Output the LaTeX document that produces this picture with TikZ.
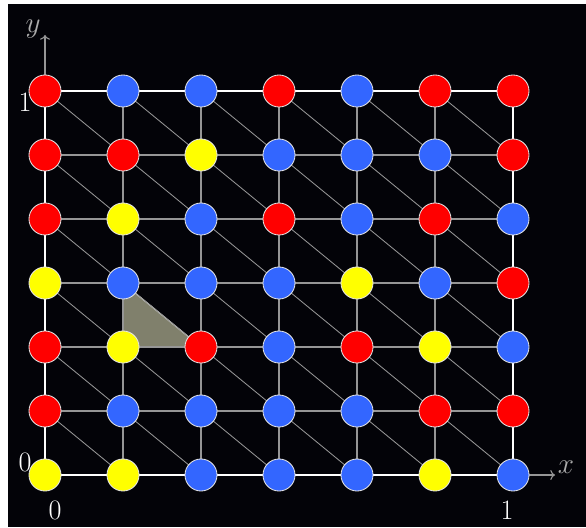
\documentclass[tikz,border=0pt]{standalone}
\usepackage{amsmath,amssymb}
\usepackage{xcolor}
\usepackage{tikz}
\usetikzlibrary{positioning,arrows.meta,calc}
\definecolor{bg}{RGB}{3,3,8}
\definecolor{gridgray}{RGB}{150,150,150}
\definecolor{ptred}{RGB}{255,0,0}
\definecolor{ptblue}{RGB}{51,102,255}
\definecolor{ptyellow}{RGB}{255,255,0}
\definecolor{tri}{RGB}{128,128,108}
\tikzset{
  dot/.style={circle,draw=white!80!gray,line width=0.6pt,minimum size=0.8cm,inner sep=0pt},
  dotR/.style={dot,fill=ptred},
  dotB/.style={dot,fill=ptblue},
  dotY/.style={dot,fill=ptyellow},
  gl/.style={gridgray,line width=0.8pt},
  dg/.style={gridgray,line width=0.6pt},
  frame/.style={white,line width=2pt},
  axis/.style={->,gridgray,line width=0.8pt},
  lbl/.style={white,font=\fontsize{20}{24}\selectfont},
}
\begin{document}
\begin{tikzpicture}[x=0.025cm,y=0.025cm]
  \useasboundingbox (0,0) rectangle (586,527);
  \fill[bg] (8,0) rectangle (586,523);
  % grid points
  \foreach \i in {0,...,6}
    \foreach \j in {0,...,6}
      \coordinate (p-\i-\j) at (45+78*\i,52+64*\j);
  % shaded cell
  \fill[tri] (p-1-3) -- (p-1-2) -- (p-2-2) -- cycle;
  \draw[white!70!tri,line width=0.8pt] (p-1-3) -- (p-2-2);
  % mesh lines and diagonals
  \foreach \i in {0,...,5}
    \foreach \j in {0,...,6} {
      \pgfmathtruncatemacro\k{\i+1}
      \draw[gl] (p-\i-\j) -- (p-\k-\j);
      \draw[gl] (p-\j-\i) -- (p-\j-\k);
      \ifnum\j<6
        \pgfmathtruncatemacro\m{\j+1}
        \draw[dg] (p-\i-\m) -- (p-\k-\j);
      \fi
    }
  \draw[frame] (p-0-0) rectangle (p-6-6);
  % axes
  \coordinate (xend) at ($(p-6-0)+(42,0)$);
  \coordinate (yend) at ($(p-0-6)+(0,56)$);
  \draw[axis] (p-6-0) -- (xend);
  \draw[axis] (p-0-6) -- (yend);
  \node[gridgray!80!white,font=\fontsize{22}{24}\selectfont] (xlab) at ($(xend)+(11,8)$) {$x$};
  \node[gridgray!80!white,font=\fontsize{22}{24}\selectfont] (ylab) at ($(yend)+(-12,6)$) {$y$};
  \node[lbl] (x0) at (55,17) {0};
  \node[lbl] (x1) at (507,17) {1};
  \node[lbl] (y0) at (25,65) {0};
  \node[lbl] (y1) at (25,425) {1};
  % colored points, bottom row first
  \foreach \row [count=\j from 0] in {
      {Y,Y,B,B,B,Y,B},
      {R,B,B,B,B,R,R},
      {R,Y,R,B,R,Y,B},
      {Y,B,B,B,Y,B,R},
      {R,Y,B,R,B,R,B},
      {R,R,Y,B,B,B,R},
      {R,B,B,R,B,R,R}}
    \foreach \c [count=\i from 0] in \row
      \node[dot\c] (n-\i-\j) at (p-\i-\j) {};
\end{tikzpicture}
\end{document}
